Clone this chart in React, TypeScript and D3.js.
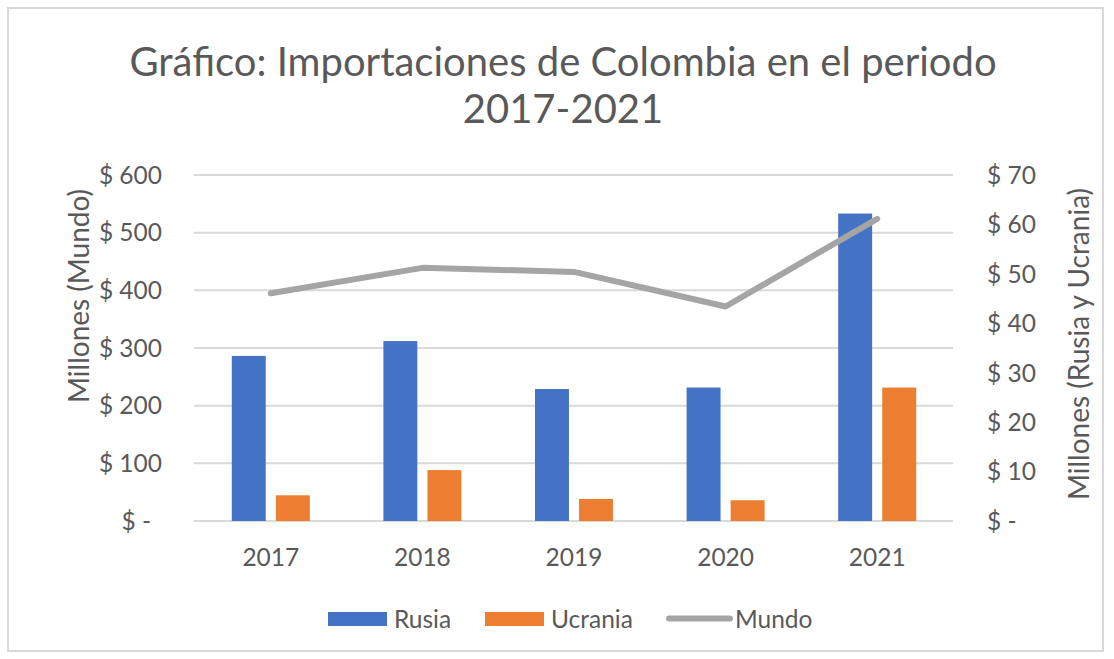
import React from "react";
import * as d3 from "d3";

const years = ["2017", "2018", "2019", "2020", "2021"];
const seriesNames = ["Rusia", "Ucrania"];
const rusia = [33.4, 36.4, 26.7, 27.0, 62.2];
const ucrania = [5.2, 10.3, 4.45, 4.2, 27.0];
const mundo = [395, 439, 432, 372, 524];
const leftTicks = [0, 100, 200, 300, 400, 500, 600];
const rightTicks = [0, 10, 20, 30, 40, 50, 60, 70];

const W = 1114;
const H = 659;
const FONT = "Lato, 'Open Sans', sans-serif";
const TXT = "#595959";
const colors: Record<string, string> = { Rusia: "#4472C4", Ucrania: "#ED7D31" };

export default function App() {
  const top = 175;
  const bottom = 521;
  const left = 195;
  const right = 953;

  const x0 = d3.scaleBand<string>().domain(years).range([left, right]).padding(0);
  const x1 = d3.scaleBand<string>().domain(seriesNames).range([-39, 39]).paddingInner(0.23);
  const yL = d3.scaleLinear().domain([0, 600]).range([bottom, top]);
  const yR = d3.scaleLinear().domain([0, 70]).range([bottom, top]);

  const cx = (y: string) => (x0(y) as number) + x0.bandwidth() / 2;

  const line = d3
    .line<number>()
    .x((_, i) => cx(years[i]))
    .y((d) => yL(d));

  const fmt = (v: number) => (v === 0 ? "$ -" : `$ ${v}`);
  const vals: Record<string, number[]> = { Rusia: rusia, Ucrania: ucrania };

  return (
    <svg width={W} height={H} style={{ position: "absolute", left: 0, top: 0, background: "#fff" }}>
      <rect x={8} y={8} width={1095} height={643} fill="#fff" stroke="#D9D9D9" strokeWidth={2} />
      <text x={563} y={76} textAnchor="middle" fontFamily={FONT} fontSize={40} fill={TXT}>
        Gráfico: Importaciones de Colombia en el periodo
      </text>
      <text x={563} y={123} textAnchor="middle" fontFamily={FONT} fontSize={40} fill={TXT}>
        2017-2021
      </text>

      {leftTicks.map((t) => (
        <line key={"g" + t} x1={left - 1} x2={right} y1={yL(t)} y2={yL(t)} stroke="#D9D9D9" strokeWidth={2} />
      ))}

      {seriesNames.map((s) =>
        years.map((y, i) => (
          <rect
            key={s + y}
            x={cx(y) + (x1(s) as number)}
            y={yR(vals[s][i])}
            width={x1.bandwidth()}
            height={bottom - yR(vals[s][i])}
            fill={colors[s]}
          />
        ))
      )}

      <path d={line(mundo) || ""} fill="none" stroke="#A5A5A5" strokeWidth={6} strokeLinecap="round" strokeLinejoin="round" />

      {leftTicks.map((t) => (
        <text
          key={"l" + t}
          x={t === 0 ? 151 : 162}
          y={yL(t)}
          dy="0.36em"
          textAnchor="end"
          fontFamily={FONT}
          fontSize={24.5}
          fill={TXT}
        >
          {fmt(t)}
        </text>
      ))}
      {rightTicks.map((t) => (
        <text key={"r" + t} x={987} y={yR(t)} dy="0.36em" textAnchor="start" fontFamily={FONT} fontSize={24.5} fill={TXT}>
          {fmt(t)}
        </text>
      ))}
      {years.map((y) => (
        <text key={"x" + y} x={cx(y)} y={557} dy="0.36em" textAnchor="middle" fontFamily={FONT} fontSize={24.5} fill={TXT}>
          {y}
        </text>
      ))}

      <text
        transform={`translate(79,296) rotate(-90)`}
        dy="0.36em"
        textAnchor="middle"
        fontFamily={FONT}
        fontSize={28}
        fill={TXT}
      >
        Millones (Mundo)
      </text>
      <text
        transform={`translate(1079,344) rotate(-90)`}
        dy="0.36em"
        textAnchor="middle"
        fontFamily={FONT}
        fontSize={28}
        fill={TXT}
      >
        Millones (Rusia y Ucrania)
      </text>

      <rect x={328} y={612} width={59} height={14} fill={colors.Rusia} />
      <text x={394} y={619} dy="0.36em" fontFamily={FONT} fontSize={24.5} fill={TXT}>
        Rusia
      </text>
      <rect x={485} y={612} width={59} height={14} fill={colors.Ucrania} />
      <text x={551} y={619} dy="0.36em" fontFamily={FONT} fontSize={24.5} fill={TXT}>
        Ucrania
      </text>
      <line x1={669} x2={730} y1={618.5} y2={618.5} stroke="#A5A5A5" strokeWidth={6} strokeLinecap="round" />
      <text x={735} y={619} dy="0.36em" fontFamily={FONT} fontSize={24.5} fill={TXT}>
        Mundo
      </text>
    </svg>
  );
}
